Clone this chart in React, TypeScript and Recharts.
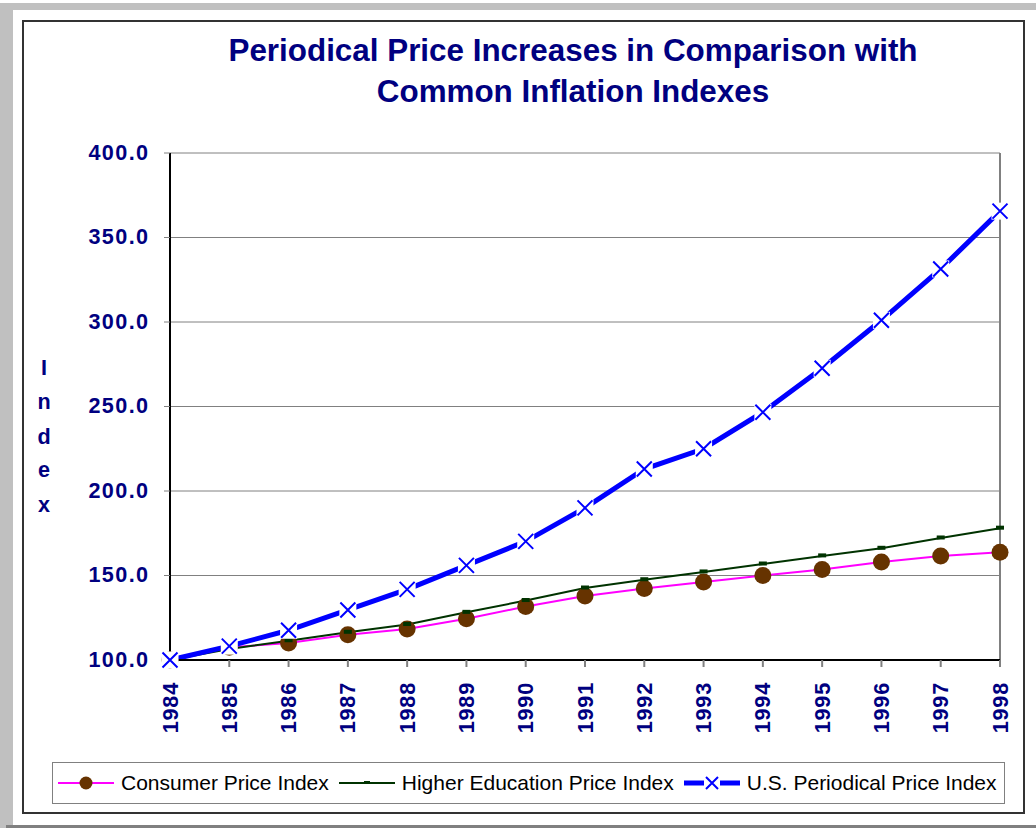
import React from "react";
import { LineChart, Line, XAxis, YAxis, CartesianGrid, Legend, ReferenceLine } from "recharts";

const years = [1984, 1985, 1986, 1987, 1988, 1989, 1990, 1991, 1992, 1993, 1994, 1995, 1996, 1997, 1998];
const consumerPriceIndex = [100.0, 107.5, 110.0, 115.0, 118.4, 124.4, 131.6, 137.9, 142.3, 146.1, 150.0, 153.5, 158.0, 161.6, 163.8];
const higherEducationPriceIndex = [100.0, 106.5, 111.4, 116.4, 121.0, 128.2, 135.2, 142.6, 147.5, 152.1, 156.8, 161.6, 166.1, 172.2, 178.0];
const periodicalPriceIndex = [100.0, 108.2, 117.6, 129.6, 141.8, 156.0, 170.2, 190.0, 213.0, 225.0, 246.6, 272.6, 301.0, 331.4, 365.6];
const yTicks = [100, 150, 200, 250, 300, 350, 400];
const titleLines = ["Periodical Price Increases in Comparison with", "Common Inflation Indexes"];
const yAxisTitle = "Index";
const seriesNames = {
  cpi: "Consumer Price Index",
  hepi: "Higher Education Price Index",
  usppi: "U.S. Periodical Price Index",
};

const data = years.map((year, i) => ({
  year,
  cpi: consumerPriceIndex[i],
  hepi: higherEducationPriceIndex[i],
  usppi: periodicalPriceIndex[i],
}));

const NAVY = "#000080";
const FONT = "Arial, 'Liberation Sans', Helvetica, sans-serif";

const YTick = (props: any) => {
  const { x, y, payload } = props;
  return (
    <text x={x + 1.5} y={y - 1} textAnchor="end" dominantBaseline="central" fill={NAVY}
      fontFamily={FONT} fontWeight="bold" fontSize={21.6} letterSpacing={1.4}>
      {Number(payload.value).toFixed(1)}
    </text>
  );
};

const XTick = (props: any) => {
  const { x, y, payload } = props;
  return (
    <text transform={`translate(${x},${y}) rotate(-90)`} textAnchor="end" dominantBaseline="central"
      fill={NAVY} fontFamily={FONT} fontWeight="bold" fontSize={21.6} letterSpacing={0.8}>
      {String(payload.value)}
    </text>
  );
};

const CircleDot = (props: any) => {
  const { cx, cy } = props;
  if (cx == null || cy == null) return null;
  return <circle cx={cx} cy={cy} r={8.5} fill="#663300" />;
};

const DashDot = (props: any) => {
  const { cx, cy } = props;
  if (cx == null || cy == null) return null;
  return <rect x={cx - 4} y={cy - 2.5} width={8} height={4} fill="#003300" />;
};

const XDot = (props: any) => {
  const { cx, cy } = props;
  if (cx == null || cy == null) return null;
  const s = 7.5;
  const d = `M${cx - s},${cy - s}L${cx + s},${cy + s}M${cx - s},${cy + s}L${cx + s},${cy - s}`;
  return (
    <g>
      <rect x={cx - 8.5} y={cy - 8.5} width={17} height={17} fill="#ffffff" />
      <path d={d} stroke="#0000ff" strokeWidth={2} fill="none" />
    </g>
  );
};

const LegendIcon = ({ kind }: { kind: string }) => {
  if (kind === "cpi") {
    return (
      <svg width={56} height={20}>
        <line x1={0} y1={10} x2={56} y2={10} stroke="#ff00ff" strokeWidth={2} />
        <circle cx={28} cy={10} r={6.5} fill="#663300" />
      </svg>
    );
  }
  if (kind === "hepi") {
    return (
      <svg width={56} height={20}>
        <line x1={0} y1={10} x2={56} y2={10} stroke="#003300" strokeWidth={2} />
        <rect x={25} y={8} width={6} height={3} fill="#003300" />
      </svg>
    );
  }
  const s = 6;
  const d = `M${28 - s},${10 - s}L${28 + s},${10 + s}M${28 - s},${10 + s}L${28 + s},${10 - s}`;
  return (
    <svg width={56} height={20}>
      <line x1={0} y1={10} x2={56} y2={10} stroke="#0000ff" strokeWidth={5} />
      <rect x={20} y={2} width={16} height={16} fill="#ffffff" />
      <path d={d} stroke="#0000ff" strokeWidth={2} fill="none" />
    </svg>
  );
};

const LegendContent = (props: any) => {
  const payload = props.payload || [];
  return (
    <div style={{
      width: 953, height: 42, boxSizing: "border-box", border: "1px solid #808080",
      display: "flex", alignItems: "center", paddingLeft: 5, background: "#fff",
    }}>
      {payload.map((p: any) => (
        <div key={p.dataKey} style={{ display: "flex", alignItems: "center", marginRight: 10 }}>
          <LegendIcon kind={p.dataKey} />
          <span style={{ marginLeft: 7, fontFamily: FONT, fontSize: 21, color: "#000", lineHeight: "24px", whiteSpace: "nowrap" }}>
            {p.value}
          </span>
        </div>
      ))}
    </div>
  );
};

export default function App() {
  const letterCenters = [367, 401, 436, 469, 504];
  return (
    <div style={{ position: "absolute", left: 0, top: 0, width: 1036, height: 828, background: "#fff", overflow: "hidden" }}>
      <svg width={1036} height={828} style={{ position: "absolute", left: 0, top: 0 }}>
        <rect x={0} y={3} width={1036} height={7} fill="#c0c0c0" />
        <rect x={0} y={3} width={13} height={825} fill="#c0c0c0" />
        <rect x={6} y={825} width={1030} height={3} fill="#808080" />
        <rect x={23} y={21} width={1001} height={792} fill="#fff" stroke="#333333" strokeWidth={2} />
        {titleLines.map((t, i) => (
          <text key={i} x={573} y={61 + i * 41} textAnchor="middle" fill={NAVY} fontFamily={FONT}
            fontWeight="bold" fontSize={31.4}>
            {t}
          </text>
        ))}
        {yAxisTitle.split("").map((ch, i) => (
          <text key={i} x={44} y={letterCenters[i]} textAnchor="middle" dominantBaseline="central"
            fill={NAVY} fontFamily={FONT} fontWeight="bold" fontSize={21.6}>
            {ch}
          </text>
        ))}
      </svg>
      <div style={{ position: "absolute", left: 0, top: 0 }}>
        <LineChart width={1036} height={828} data={data}
          margin={{ top: 153, right: 36, left: 90, bottom: 88 }}>
          <CartesianGrid vertical={false} stroke="#808080" strokeWidth={1} />
          <ReferenceLine x={1998} stroke="#808080" strokeWidth={2} />
          <XAxis dataKey="year" type="number" domain={[1984, 1998]} ticks={years} interval={0}
            height={80} axisLine={{ stroke: "#000", strokeWidth: 2 }} tickLine={{ stroke: "#808080", strokeWidth: 2 }}
            tickSize={7} tickMargin={15} tick={<XTick />} />
          <YAxis type="number" domain={[100, 400]} ticks={yTicks} interval={0} width={80}
            axisLine={{ stroke: "#000", strokeWidth: 2 }} tickLine={{ stroke: "#808080", strokeWidth: 1 }}
            tickSize={6} tickMargin={16} tick={<YTick />} />
          <Legend layout="horizontal" verticalAlign="middle" align="center" content={<LegendContent />}
            wrapperStyle={{ position: "absolute", left: 52, top: 762, width: 953, height: 42 }} />
          <Line type="linear" dataKey="cpi" name={seriesNames.cpi} stroke="#ff00ff" strokeWidth={2}
            dot={<CircleDot />} activeDot={false} isAnimationActive={false} />
          <Line type="linear" dataKey="hepi" name={seriesNames.hepi} stroke="#003300" strokeWidth={2}
            dot={<DashDot />} activeDot={false} isAnimationActive={false} />
          <Line type="linear" dataKey="usppi" name={seriesNames.usppi} stroke="#0000ff" strokeWidth={5}
            dot={<XDot />} activeDot={false} isAnimationActive={false} />
        </LineChart>
      </div>
    </div>
  );
}
